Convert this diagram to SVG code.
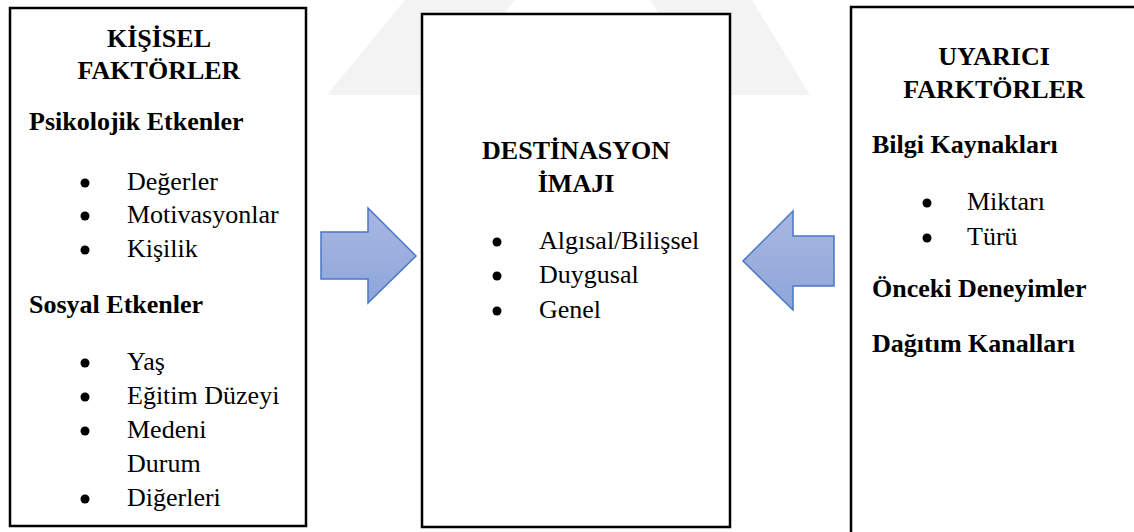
<svg xmlns="http://www.w3.org/2000/svg" width="1134" height="532" viewBox="0 0 1134 532">
  <defs>
    <linearGradient id="arrowFill" x1="0" y1="0" x2="0" y2="1">
      <stop offset="0" stop-color="#a9b7e0"/>
      <stop offset="1" stop-color="#8ea5da"/>
    </linearGradient>
    <style>
      .box { fill: #ffffff; stroke: #000000; stroke-width: 2.5; }
      .mark { fill: #f3f3f3; }
      .arrow { fill: url(#arrowFill); stroke: #4a76c6; stroke-width: 1.5; stroke-linejoin: miter; }
      .t { font-family: 'Liberation Serif', 'Times New Roman', serif; font-size: 26px; fill: #000000; }
      .h { font-weight: bold; }
      .c { text-anchor: middle; }
      .dot { fill: #000000; }
    </style>
  </defs>

  <rect width="1134" height="532" fill="#ffffff"/>

  <!-- faint background mark -->
  <g id="background-mark">
    <polygon class="mark" points="327,95 440,95 515,0 405,0"/>
    <polygon class="mark" points="650,0 752,0 810,95 712,95"/>
  </g>

  <!-- connectors -->
  <g id="connectors">
    <polygon class="arrow" points="321,232 368,232 368,208 416,256 368,303 368,279 321,279"/>
    <polygon class="arrow" points="834,236 793,236 793,211 743,261 793,310 793,286 834,286"/>
  </g>

  <!-- personal factors -->
  <g id="node-kisisel">
    <rect class="box" x="10" y="8" width="296" height="518"/>
    <text class="t h c" x="159" y="47">KİŞİSEL</text>
    <text class="t h c" x="159" y="79">FAKTÖRLER</text>
    <text class="t h" x="29" y="130">Psikolojik Etkenler</text>
    <circle class="dot" cx="85" cy="183" r="4.5"/>
    <text class="t" x="127" y="190">Değerler</text>
    <circle class="dot" cx="85" cy="216" r="4.5"/>
    <text class="t" x="127" y="223">Motivasyonlar</text>
    <circle class="dot" cx="85" cy="250" r="4.5"/>
    <text class="t" x="127" y="257">Kişilik</text>
    <text class="t h" x="29" y="313">Sosyal Etkenler</text>
    <circle class="dot" cx="85" cy="363" r="4.5"/>
    <text class="t" x="127" y="370">Yaş</text>
    <circle class="dot" cx="85" cy="397" r="4.5"/>
    <text class="t" x="127" y="404">Eğitim Düzeyi</text>
    <circle class="dot" cx="85" cy="431" r="4.5"/>
    <text class="t" x="127" y="438">Medeni</text>
    <text class="t" x="127" y="472">Durum</text>
    <circle class="dot" cx="85" cy="499" r="4.5"/>
    <text class="t" x="127" y="506">Diğerleri</text>
  </g>

  <!-- destination image -->
  <g id="node-destinasyon">
    <rect class="box" x="422" y="14" width="308" height="513"/>
    <text class="t h c" x="576" y="159">DESTİNASYON</text>
    <text class="t h c" x="576" y="192">İMAJI</text>
    <circle class="dot" cx="497" cy="242" r="4.5"/>
    <text class="t" x="539" y="249">Algısal/Bilişsel</text>
    <circle class="dot" cx="497" cy="276" r="4.5"/>
    <text class="t" x="539" y="283">Duygusal</text>
    <circle class="dot" cx="497" cy="311" r="4.5"/>
    <text class="t" x="539" y="318">Genel</text>
  </g>

  <!-- stimulus factors -->
  <g id="node-uyarici">
    <rect class="box" x="851" y="7" width="300" height="540"/>
    <text class="t h c" x="994" y="65">UYARICI</text>
    <text class="t h c" x="994" y="98">FARKTÖRLER</text>
    <text class="t h" x="872" y="153">Bilgi Kaynakları</text>
    <circle class="dot" cx="927" cy="203" r="4.5"/>
    <text class="t" x="967" y="210">Miktarı</text>
    <circle class="dot" cx="927" cy="238" r="4.5"/>
    <text class="t" x="967" y="245">Türü</text>
    <text class="t h" x="872" y="297">Önceki Deneyimler</text>
    <text class="t h" x="872" y="352">Dağıtım Kanalları</text>
  </g>
</svg>
